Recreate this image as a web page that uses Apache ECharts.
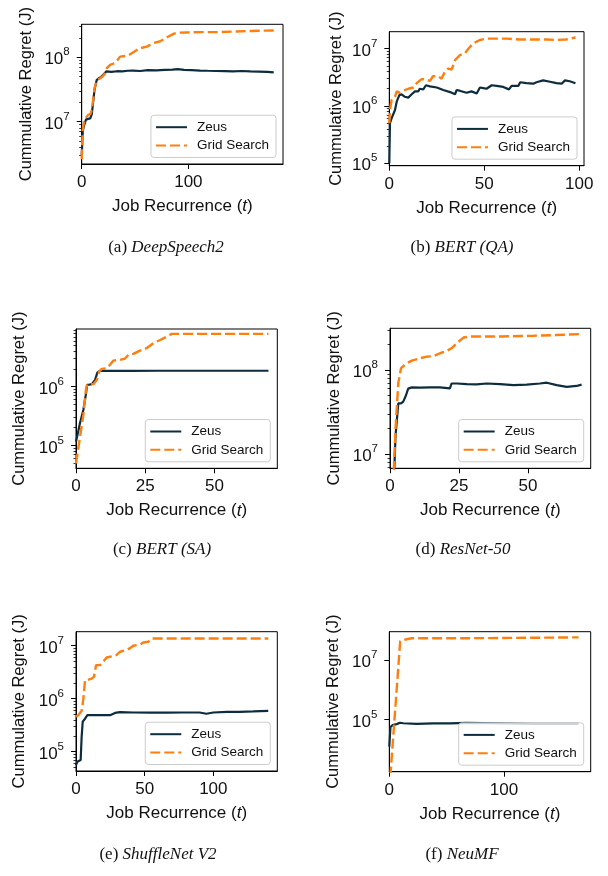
<!DOCTYPE html>
<html><head><meta charset="utf-8">
<script src="https://cdn.jsdelivr.net/npm/echarts@6/dist/echarts.min.js"></script>
<style>html,body{margin:0;padding:0;background:#fff}#c{width:608px;height:876px}</style>
</head><body><div id="c"></div>
<script>
const seriesNames = ['Zeus', 'Grid Search'];
const captionLabels = ['(a) ', '(b) ', '(c) ', '(d) ', '(e) ', '(f) '];
const captionNames = ['DeepSpeech2', 'BERT (QA)', 'BERT (SA)', 'ResNet-50', 'ShuffleNet V2', 'NeuMF'];
const xTitle = 'Job Recurrence ({i|t})';
const yTitle = 'Cummulative Regret (J)';

// (a) DeepSpeech2
const zeusA = [[0,2.9e6],[1,7e6],[2,8.5e6],[4,1.07e7],[6,1.1e7],[8,1.12e7],[9.5,1.3e7],[11,2.2e7],[12,3.1e7],[14,4.4e7],[16,4.7e7],[18,4.9e7],[20,5.3e7],[23,6.0e7],[28,5.9e7],[33,6.05e7],[38,6.0e7],[43,6.15e7],[48,6.2e7],[55,6.1e7],[62,6.3e7],[70,6.25e7],[78,6.35e7],[85,6.4e7],[90,6.5e7],[96,6.35e7],[103,6.3e7],[111,6.2e7],[118,6.15e7],[126,6.1e7],[134,6.05e7],[142,6.0e7],[150,6.1e7],[158,6.0e7],[166,5.95e7],[174,5.9e7],[180,5.8e7]];
const gridA = [[0,2.6e6],[1,7.5e6],[2,9.5e6],[4,1.15e7],[6,1.27e7],[8,1.3e7],[9.5,1.5e7],[11,2.4e7],[12,3.3e7],[14,4.3e7],[15.6,4.6e7],[18,4.8e7],[20,5.1e7],[22,5.6e7],[23.4,6.7e7],[26.6,7.6e7],[31,8.1e7],[33,8.8e7],[36,1.02e8],[42,1.05e8],[45,1.1e8],[48,1.18e8],[52,1.3e8],[55,1.38e8],[61,1.46e8],[64,1.55e8],[67,1.65e8],[73,1.75e8],[77,1.9e8],[80,2.04e8],[86,2.3e8],[89,2.4e8],[98,2.42e8],[111,2.45e8],[127,2.45e8],[142,2.5e8],[158,2.55e8],[170,2.58e8],[180,2.6e8]];
// (b) BERT (QA)
const zeusB = [[0,1.0e5],[0.35,5.0e5],[1.2,6.1e5],[2.1,6.5e5],[3,8.5e5],[3.9,1.19e6],[5.3,1.55e6],[6.5,1.6e6],[8.2,1.45e6],[10,1.4e6],[11.8,1.6e6],[13.5,1.8e6],[15.3,1.8e6],[16,2.0e6],[17.9,1.95e6],[19.3,2.3e6],[21.4,2.2e6],[25,2.1e6],[28.4,1.9e6],[32,1.75e6],[34.6,1.6e6],[35.4,1.9e6],[37,1.85e6],[40.7,1.7e6],[43.3,1.8e6],[46,1.65e6],[47.7,2.1e6],[49.5,2.05e6],[51.2,2.0e6],[53.9,2.3e6],[56.5,2.25e6],[60,2.15e6],[63,1.95e6],[64.4,2.25e6],[68,2.25e6],[68.9,2.6e6],[72.3,2.5e6],[75.8,2.45e6],[77.5,2.6e6],[81,2.8e6],[84.6,2.65e6],[88,2.5e6],[90.7,2.45e6],[92.5,2.8e6],[95,2.7e6],[98,2.5e6]];
const gridB = [[0,5.0e5],[0.35,8.5e5],[1.2,1.27e6],[3,1.45e6],[3.9,1.8e6],[5.6,1.7e6],[7.4,1.85e6],[10,2.0e6],[12.6,2.1e6],[14.4,2.5e6],[17,2.95e6],[19.6,2.9e6],[21.4,2.75e6],[23,3.3e6],[25.8,3.3e6],[27.5,3.0e6],[29.3,4.0e6],[31,4.5e6],[32.8,4.3e6],[34.6,6.3e6],[37.2,7.75e6],[39.8,8.3e6],[41.6,1.0e7],[44.2,1.24e7],[47.7,1.42e7],[51.2,1.5e7],[61.8,1.5e7],[68.8,1.45e7],[75.8,1.45e7],[82.8,1.45e7],[88,1.42e7],[93,1.45e7],[98,1.57e7]];
// (c) BERT (SA)
const zeusC = [[0,1.15e5],[1.45,2.4e5],[2.65,4.0e5],[3.6,7.5e5],[4,1.07e6],[4.8,1.08e6],[5.7,1.1e6],[6.9,1.3e6],[7.7,1.73e6],[8.7,1.87e6],[11,1.85e6],[20,1.85e6],[30,1.86e6],[45,1.86e6],[60,1.86e6],[69.5,1.86e6]];
const gridC = [[0,4.9e4],[1.45,1.4e5],[2.65,3.3e5],[3.6,9.0e5],[4.1,1.1e6],[6.3,1.1e6],[7.5,1.3e6],[8.4,1.8e6],[9.3,2.0e6],[11.1,2.05e6],[12.3,2.35e6],[13.5,2.77e6],[15.9,2.85e6],[17.7,3.0e6],[18.9,3.47e6],[20.7,3.6e6],[23.1,4.1e6],[24.3,4.3e6],[25.5,4.5e6],[28,5.5e6],[30.4,6.2e6],[32.8,7.1e6],[34.6,7.9e6],[37.6,7.9e6],[50,7.9e6],[69.5,7.9e6]];
// (d) ResNet-50
const zeusD = [[0,1.0e6],[1,2.0e6],[2,1.65e7],[3,4.0e7],[4,4.0e7],[4.8,4.2e7],[5.8,5.0e7],[6.6,6.0e7],[7.9,6.2e7],[10.9,6.15e7],[14.5,6.2e7],[18.1,6.2e7],[21.7,6.05e7],[22.3,6.9e7],[24.2,6.9e7],[27.8,6.8e7],[31.4,6.75e7],[35,6.9e7],[39.9,6.8e7],[44.7,6.6e7],[49.5,6.7e7],[54.3,6.9e7],[56.8,7.05e7],[60.4,6.6e7],[64,6.3e7],[67.6,6.45e7],[69.4,6.7e7]];
const gridD = [[0,2.0e6],[1,3.2e6],[2,2.0e7],[3,7.0e7],[4,1.05e8],[6,1.2e8],[7.9,1.29e8],[10.9,1.38e8],[13.3,1.44e8],[15.7,1.46e8],[18.1,1.58e8],[20.5,1.68e8],[22.3,1.81e8],[24.2,2.08e8],[26.6,2.43e8],[29,2.5e8],[40,2.5e8],[52,2.55e8],[60,2.6e8],[69.4,2.68e8]];
// (e) ShuffleNet V2
const zeusE = [[0,5.6e4],[1,6.5e4],[2.4,6.9e4],[3.4,7.0e4],[4.1,1.9e5],[4.9,3.7e5],[6.6,4.2e5],[8.3,4.9e5],[12.6,4.9e5],[17.5,4.9e5],[24.8,4.9e5],[28.4,5.4e5],[32,5.6e5],[41.7,5.5e5],[53.9,5.45e5],[66,5.45e5],[78,5.5e5],[90,5.5e5],[95,5.2e5],[100,5.5e5],[110,5.65e5],[119,5.65e5],[129,5.75e5],[140,5.9e5]];
const gridE = [[0,4.6e5],[1.7,4.9e5],[2.9,5.4e5],[4.1,5.9e5],[5.3,9.7e5],[6.6,2.25e6],[9,2.3e6],[11.4,2.4e6],[13.1,2.6e6],[14.6,4.3e6],[17.5,4.3e6],[19.9,5.0e6],[22.3,6.0e6],[27.2,6.4e6],[29.6,6.7e6],[32,7.7e6],[36.9,8.3e6],[39.3,9.0e6],[41.7,1.0e7],[46.6,1.05e7],[49,1.15e7],[52.7,1.19e7],[55.1,1.37e7],[66,1.37e7],[100,1.37e7],[140,1.37e7]];
// (f) NeuMF
const zeusF = [[0,1.2e4],[1,5.5e4],[2.9,6.4e4],[6.4,6.9e4],[9.3,7.7e4],[12.2,7.4e4],[23.8,7.0e4],[38.4,7.3e4],[53,7.3e4],[67,7.6e4],[96.5,7.3e4],[125.6,7.0e4],[150,7.1e4],[165,7.0e4]];
const gridF = [[0,4.0e2],[9.5,4.3e7],[12.2,4.7e7],[15,5.0e7],[19.5,5.4e7],[60,5.4e7],[120,5.6e7],[165,5.8e7]];

const zeusData = [zeusA, zeusB, zeusC, zeusD, zeusE, zeusF];
const gridData = [gridA, gridB, gridC, gridD, gridE, gridF];

const xMax = [188.7, 102.5, 72.7, 72.7, 146.6, 175.6];
const xTicks = [[0, 100], [0, 50, 100], [0, 25, 50], [0, 25, 50], [0, 50, 100], [0, 100]];
const yMin = [2.19e6, 9.08e4, 4.07e4, 6.76e6, 4.33e4, 1.72e3];
const yMax = [3.24e8, 1.98e7, 9.55e6, 3.13e8, 1.84e7, 9.0e7];
const yTicks = [[1e7, 1e8], [1e5, 1e6, 1e7], [1e5, 1e6], [1e7, 1e8], [1e5, 1e6, 1e7], [1e5, 1e7]];
const showMinor = [true, true, true, true, true, false];

// layout (pixels)
const boxes = [
  {l: 81.7, t: 24.3, w: 201.3, h: 139.7},
  {l: 389.3, t: 31.7, w: 194.7, h: 134},
  {l: 76, t: 329, w: 201.3, h: 139.3},
  {l: 390, t: 328.3, w: 200.7, h: 140},
  {l: 76, t: 631.7, w: 201.3, h: 139.3},
  {l: 389.3, t: 631.7, w: 201.4, h: 140}
];
const yNameGap = [47, 44, 48.5, 47.5, 48.5, 47];
const capPos = [[166, 248], [462, 248], [162, 550], [463, 550], [158, 855], [462, 855]];

const FONT = 'Liberation Sans, Arial, Helvetica, sans-serif';
const SERIF = 'Liberation Serif, Times New Roman, serif';
const ZEUS = '#0d2c3d';
const GS = '#ff7f0e';
const FS = 17;

function minorTicks(lo, hi) {
  const out = [];
  for (let e = Math.floor(Math.log10(lo)); e <= Math.ceil(Math.log10(hi)); e++) {
    for (let k = 2; k <= 9; k++) {
      const v = k * Math.pow(10, e);
      if (v > lo && v < hi) out.push(v);
    }
  }
  return out;
}

const grids = [], xAxes = [], yAxes = [], yMinorAxes = [], series = [], legends = [], graphics = [];
boxes.forEach((b, i) => {
  grids.push({left: b.l, top: b.t, width: b.w, height: b.h, show: true, borderColor: '#000', borderWidth: 1,
    backgroundColor: 'transparent', containLabel: false, outerBoundsMode: 'none'});
  xAxes.push({
    type: 'value', gridIndex: i, min: 0, max: xMax[i],
    axisLine: {show: true, onZero: false, lineStyle: {color: '#000', width: 1}},
    axisTick: {show: true, length: 5, lineStyle: {color: '#000', width: 1}, customValues: xTicks[i]},
    axisLabel: {show: true, customValues: xTicks[i], fontSize: FS, color: '#111', margin: 10, fontFamily: FONT},
    splitLine: {show: false}, minorTick: {show: false},
    name: xTitle, nameLocation: 'middle', nameGap: 34,
    nameTextStyle: {fontSize: FS, color: '#111', fontFamily: FONT,
      rich: {i: {fontStyle: 'italic', fontSize: FS, color: '#111', fontFamily: FONT}}}
  });
  yAxes.push({
    type: 'log', logBase: 10, gridIndex: i, position: 'left', min: yMin[i], max: yMax[i],
    axisLine: {show: true, onZero: false, lineStyle: {color: '#000', width: 1}},
    axisTick: {show: true, length: 5, lineStyle: {color: '#000', width: 1}, customValues: yTicks[i]},
    axisLabel: {show: true, customValues: yTicks[i], margin: 12, color: '#111', fontFamily: FONT,
      formatter: v => '{b|10}{s|' + Math.round(Math.log10(v)) + '}',
      rich: {
        b: {fontSize: FS, lineHeight: 17, verticalAlign: 'bottom', color: '#111', fontFamily: FONT},
        s: {fontSize: 11.5, padding: [0, 0, 10, 0], verticalAlign: 'top', color: '#111', fontFamily: FONT}
      }},
    splitLine: {show: false}, minorTick: {show: false},
    name: yTitle, nameLocation: 'middle', nameGap: yNameGap[i],
    nameTextStyle: {fontSize: 16.5, color: '#111', fontFamily: FONT}
  });
  yMinorAxes.push({
    type: 'log', logBase: 10, gridIndex: i, position: 'left', min: yMin[i], max: yMax[i],
    axisLine: {show: false},
    axisTick: {show: showMinor[i], length: 2.5, lineStyle: {color: '#000', width: 0.8},
      customValues: showMinor[i] ? minorTicks(yMin[i], yMax[i]) : []},
    axisLabel: {show: false}, splitLine: {show: false}
  });
  series.push({
    name: seriesNames[0], type: 'line', xAxisIndex: i, yAxisIndex: i, data: zeusData[i],
    symbol: 'none', showSymbol: false, clip: true, z: 2,
    lineStyle: {color: ZEUS, width: 2.2, type: 'solid'}, itemStyle: {color: ZEUS}
  });
  series.push({
    name: seriesNames[1], type: 'line', xAxisIndex: i, yAxisIndex: i, data: gridData[i],
    symbol: 'none', showSymbol: false, clip: true, z: 3,
    lineStyle: {color: GS, width: 2.4, type: [10, 4]}, itemStyle: {color: GS}
  });
  legends.push({
    data: seriesNames, orient: 'vertical', selectedMode: false,
    right: 608 - (b.l + b.w - 7), bottom: 876 - (b.t + b.h - 6.5),
    itemWidth: 31, itemHeight: 14, itemGap: 4.3, padding: [5, 7, 5, 4],
    itemStyle: {opacity: 0},
    backgroundColor: 'rgba(255,255,255,0.8)', borderColor: '#cccccc', borderWidth: 1, borderRadius: 3,
    textStyle: {fontSize: 13.5, color: '#111', fontFamily: FONT, padding: [0, 0, 0, 5]}
  });
  graphics.push({
    type: 'text', x: capPos[i][0], y: capPos[i][1],
    style: {
      text: '{r|' + captionLabels[i] + '}{it|' + captionNames[i] + '}',
      align: 'center', verticalAlign: 'middle',
      rich: {
        r: {fontFamily: SERIF, fontSize: 17, fill: '#111'},
        it: {fontFamily: SERIF, fontSize: 17, fontStyle: 'italic', fill: '#111'}
      }
    }
  });
});

const chart = echarts.init(document.getElementById('c'), null, {renderer: 'canvas'});
chart.setOption({
  animation: false,
  backgroundColor: '#fff',
  grid: grids,
  xAxis: xAxes,
  yAxis: yAxes.concat(yMinorAxes),
  series: series,
  legend: legends,
  graphic: graphics
});
</script></body></html>
